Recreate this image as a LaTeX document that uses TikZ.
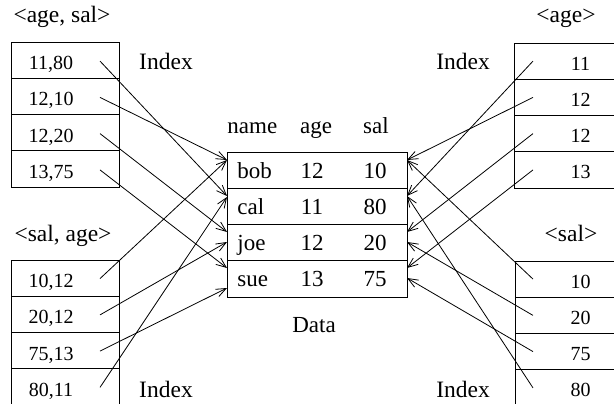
\documentclass[tikz,border=0pt]{standalone}
\usepackage{fontspec}
\setmainfont{Liberation Serif}
\usetikzlibrary{arrows.meta}
\begin{document}
\begin{tikzpicture}[x=1pt,y=-1pt, line width=0.9pt,
  cell/.style={draw, rectangle, inner sep=0pt, minimum width=108pt, minimum height=36.25pt},
  rcell/.style={cell, minimum width=112pt},
  dcell/.style={cell, minimum width=180pt},
  idx/.style={font=\fontsize{20}{24}\selectfont, anchor=base, inner sep=0pt},
  lab/.style={font=\fontsize{23.5}{28}\selectfont, anchor=base, inner sep=0pt},
  dat/.style={font=\fontsize{23}{27}\selectfont, anchor=base, inner sep=0pt},
  ptr/.style={-{Straight Barb[length=10pt,width=8pt]}, line width=0.8pt}]
\useasboundingbox (0,0) rectangle (614,404);
\clip (0,0) rectangle (614,404);

% ---------- labels ----------
\node[lab] (t1) at (62,23) {<age, sal>};
\node[lab] (t2) at (566,23) {<age>};
\node[lab] (t3) at (63,241) {<sal, age>};
\node[lab] (t4) at (571,241) {<sal>};
\node[lab] (i1) at (166,70) {Index};
\node[lab] (i2) at (463,70) {Index};
\node[lab] (i3) at (166,397) {Index};
\node[lab] (i4) at (463,397) {Index};

% ---------- left top index <age, sal> ----------
\foreach \k/\y/\t in {1/60.1/{11,80},2/96.4/{12,10},3/132.6/{12,20},4/168.9/{13,75}}{
  \node[cell] (LA\k) at (65,\y) {};
  \node[idx] (LAt\k) at (51,\y+9.5) {\t};
  \coordinate (LAs\k) at (100,\y+1);
}
% ---------- left bottom index <sal, age> ----------
\foreach \k/\y/\t in {1/278.1/{10,12},2/314.4/{20,12},3/350.6/{75,13},4/386.9/{80,11}}{
  \node[cell] (LB\k) at (65,\y) {};
  \node[idx] (LBt\k) at (51,\y+9.5) {\t};
  \coordinate (LBs\k) at (100,\y+0.5);
}
% ---------- right top index <age> ----------
\foreach \k/\y/\t in {1/61.1/{11},2/97.4/{12},3/133.6/{12},4/169.9/{13}}{
  \node[rcell] (RA\k) at (570,\y) {};
  \node[idx] (RAt\k) at (580.5,\y+9) {\t};
  \coordinate (RAs\k) at (533,\y);
}
% ---------- right bottom index <sal> ----------
\foreach \k/\y/\t in {1/279.1/{10},2/315.4/{20},3/351.6/{75},4/387.9/{80}}{
  \node[rcell] (RB\k) at (571,\y) {};
  \node[idx] (RBt\k) at (580.5,\y+9) {\t};
  \coordinate (RBs\k) at (533,\y);
}

% ---------- data table ----------
\node[dat, anchor=base west] (hn) at (227,133) {name};
\node[dat] (ha) at (316,133) {age};
\node[dat] (hs) at (376,133) {sal};
\foreach \k/\y/\n/\a/\s in {1/170.1/bob/12/10,2/206.4/cal/11/80,3/242.6/joe/12/20,4/278.9/sue/13/75}{
  \node[dcell] (D\k) at (317,\y) {};
  \node[dat, anchor=base west] (Dn\k) at (237,\y+8) {\n};
  \node[dat] (Da\k) at (312,\y+8) {\a};
  \node[dat] (Ds\k) at (375,\y+8) {\s};
}
\node[dat] (dl) at (314,332) {Data};

% ---------- arrow targets ----------
\coordinate (Lbob) at (227,160);
\coordinate (Lcal1) at (227,196);
\coordinate (Lcal2) at (227,197);
\coordinate (Ljoe1) at (227,232);
\coordinate (Ljoe2) at (227,242);
\coordinate (Lsue1) at (227,268);
\coordinate (Lsue2) at (227,288);
\coordinate (Rbob) at (407,160);
\coordinate (Rcal) at (407,196);
\coordinate (Rjoe1) at (407,232);
\coordinate (Rjoe2) at (407,242);
\coordinate (Rsue1) at (407,268);
\coordinate (Rsue2) at (407,278);

% ---------- pointers ----------
\draw[ptr] (LAs1) -- (Lcal1);
\draw[ptr] (LAs2) -- (Lbob);
\draw[ptr] (LAs3) -- (Ljoe1);
\draw[ptr] (LAs4) -- (Lsue1);
\draw[ptr] (LBs1) -- (Lbob);
\draw[ptr] (LBs2) -- (Ljoe2);
\draw[ptr] (LBs3) -- (Lsue2);
\draw[ptr] (LBs4) -- (Lcal2);
\draw[ptr] (RAs1) -- (Rcal);
\draw[ptr] (RAs2) -- (Rbob);
\draw[ptr] (RAs3) -- (Rjoe1);
\draw[ptr] (RAs4) -- (Rsue1);
\draw[ptr] (RBs1) -- (Rbob);
\draw[ptr] (RBs2) -- (Rjoe2);
\draw[ptr] (RBs3) -- (Rsue2);
\draw[ptr] (RBs4) -- (Rcal);
\end{tikzpicture}
\end{document}
